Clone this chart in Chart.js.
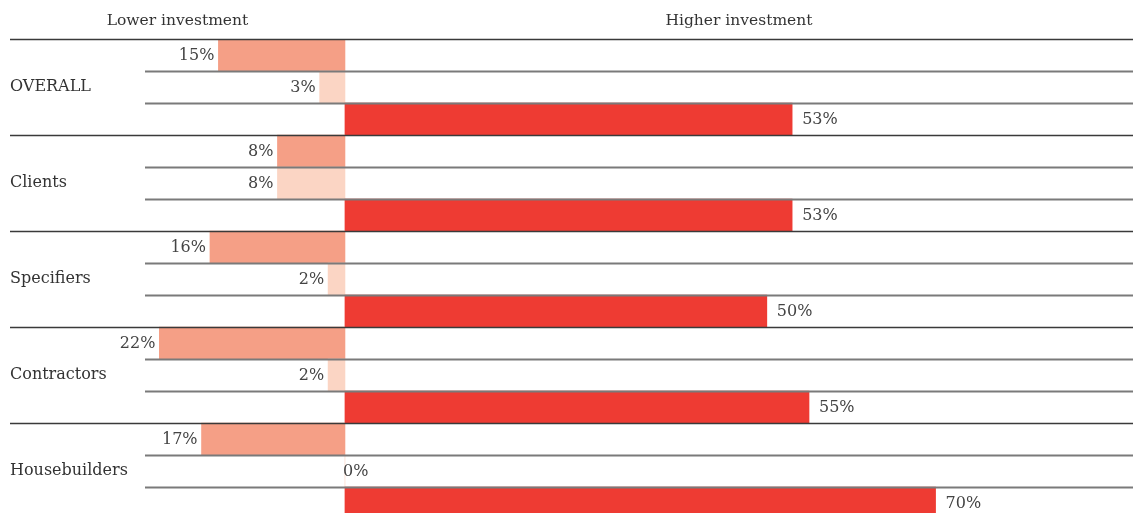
<html>
  <head>
    <style>
      html, body { margin: 0; padding: 0; background: #fff; overflow: hidden; }
      #wrap { width: 1133px; height: 513px; overflow: hidden; }
      #myChart { display: block; }
    </style>
  </head>
  <body>
    <div id="wrap">
      <canvas id="myChart" width="1133" height="520"></canvas>
    </div>
    <script src="https://cdn.jsdelivr.net/npm/chart.js"></script>
    <script>
      const groups = ['OVERALL', 'Clients', 'Specifiers', 'Contractors', 'Housebuilders'];
      const lowerValues = [15, 8, 16, 22, 17];
      const slightValues = [3, 8, 2, 2, 0];
      const higherValues = [53, 53, 50, 55, 70];
      const headings = ['Lower investment', 'Higher investment'];

      const rowColors = ['#f59f86', '#fbd5c4', '#ee3b33'];
      const FONT = '"DejaVu Serif", serif';

      // three rows per group: lower drawn to the left of zero, higher to the right
      let rowLabels = [];
      let rowValues = [];
      let barColors = [];
      groups.forEach(function (g, i) {
        rowLabels.push('', g, '');
        rowValues.push(-lowerValues[i], -slightValues[i], higherValues[i]);
        barColors.push(rowColors[0], rowColors[1], rowColors[2]);
      });

      const decor = {
        id: 'decor',
        afterDatasetsDraw(chart) {
          const ctx = chart.ctx;
          const area = chart.chartArea;
          const x = chart.scales.x;
          const y = chart.scales.y;
          const half = (y.getPixelForValue(1) - y.getPixelForValue(0)) / 2;
          ctx.save();
          // row rules: full width between groups, shorter inside a group
          for (let i = 0; i <= rowLabels.length; i++) {
            const py = Math.round(y.getPixelForValue(i) - half) + 0.5;
            const sep = i % 3 === 0;
            ctx.strokeStyle = sep ? '#3a3a3a' : '#7a7a7a';
            ctx.lineWidth = sep ? 1.5 : 2;
            ctx.beginPath();
            ctx.moveTo(sep ? 10 : area.left, py);
            ctx.lineTo(area.right, py);
            ctx.stroke();
          }
          // value labels
          ctx.font = '16px ' + FONT;
          ctx.fillStyle = '#444';
          ctx.textBaseline = 'middle';
          const zero = x.getPixelForValue(0);
          rowValues.forEach(function (v, i) {
            const py = y.getPixelForValue(i) + 1;
            const end = x.getPixelForValue(v);
            const txt = Math.abs(v) + '%';
            if (v > 0) {
              ctx.textAlign = 'left';
              ctx.fillText(txt, end + 10, py);
            } else if (v < 0) {
              ctx.textAlign = 'right';
              ctx.fillText(txt, end - 4, py);
            } else {
              ctx.textAlign = 'left';
              ctx.fillText(txt, zero - 2, py);
            }
          });
          // headings over each side
          ctx.font = '15.5px ' + FONT;
          ctx.fillStyle = '#333';
          ctx.textAlign = 'center';
          ctx.fillText(headings[0], (10 + zero) / 2, 21);
          ctx.fillText(headings[1], (zero + area.right) / 2, 21);
          ctx.restore();
        }
      };

      new Chart(document.getElementById('myChart'), {
        type: 'bar',
        data: {
          labels: rowLabels,
          datasets: [{
            data: rowValues,
            backgroundColor: barColors,
            borderWidth: 0,
            barPercentage: 1,
            categoryPercentage: 1
          }]
        },
        options: {
          indexAxis: 'y',
          responsive: false,
          animation: false,
          layout: { padding: { top: 39, left: 10, right: 0, bottom: 1 } },
          plugins: {
            legend: { display: false },
            tooltip: { enabled: false }
          },
          scales: {
            x: {
              min: -23.7,
              max: 93.4,
              display: false,
              grid: { display: false }
            },
            y: {
              grid: { display: false },
              border: { display: false },
              afterFit(scale) {
                scale.width = 135;
                scale.paddingTop = 0;
                scale.paddingBottom = 0;
              },
              ticks: {
                autoSkip: false,
                crossAlign: 'far',
                padding: 0,
                color: '#333',
                font: { family: FONT, size: 16 }
              }
            }
          }
        },
        plugins: [decor]
      });
    </script>
  </body>
</html>
